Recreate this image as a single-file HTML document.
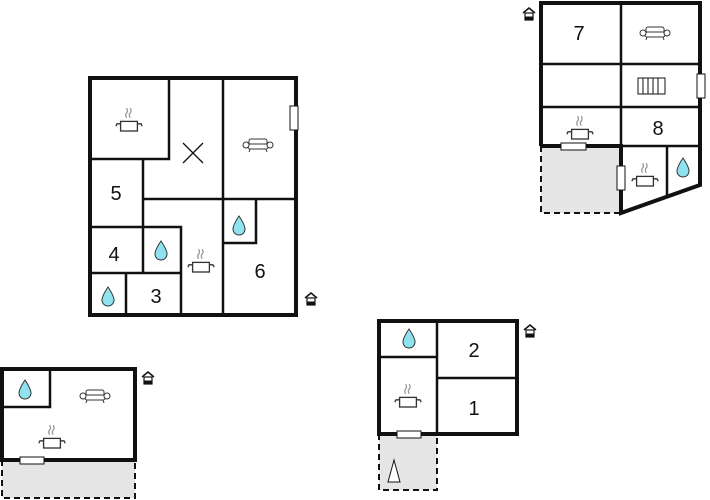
<!DOCTYPE html>
<html><head><style>body{margin:0;background:#fff}svg{display:block}text{font-family:"Liberation Sans",sans-serif;font-size:20px;fill:#111;text-anchor:middle}</style></head><body>
<svg width="710" height="500" viewBox="0 0 710 500" xmlns="http://www.w3.org/2000/svg">
<defs>
<g id="drop"><path d="M0,-10 C4,-4 6,0 6,3 A6,6 0 0 1 -6,3 C-6,0 -4,-4 0,-10Z" fill="#8fe3ee" stroke="#333" stroke-width="1"/></g>
<g id="pot" fill="none" stroke="#333" stroke-width="1.1" transform="scale(1.2)"><rect x="-7" y="-3" width="14" height="8" fill="#fff"/><path d="M-7,-1 L-10,-1 L-11,1 M7,-1 L10,-1 L11,1"/><path d="M-2,-6 q-1.5,-2.5 0,-4 q1.5,-1.5 0,-4 M1,-6 q-1.5,-2.5 0,-4 q1.5,-1.5 0,-4" stroke="#999"/></g>
<g id="sofa" fill="#fff" stroke="#333" stroke-width="1"><rect x="-9" y="-5" width="18" height="6" rx="2"/><rect x="-10" y="0" width="20" height="5" rx="2"/><ellipse cx="-12" cy="1" rx="3" ry="3"/><ellipse cx="12" cy="1" rx="3" ry="3"/><path d="M-8,5 l-1,3 M8,5 l1,3" fill="none"/></g>
<g id="house"><path d="M-6,-1 L0,-6 L6,-1" fill="none" stroke="#111" stroke-width="1.5"/><rect x="-4" y="-1" width="8" height="7" fill="#fff" stroke="#111" stroke-width="1.2"/><rect x="-4" y="2.5" width="8" height="3.5" fill="#111"/></g>
</defs>
<g stroke="#111" fill="none">
<rect x="90" y="78" width="206" height="237" stroke-width="4"/>
<g stroke-width="2.5">
<path d="M90,159H169V78 M223,78V315 M143,199H296 M143,159V273 M90,227H181V315 M90,273H181 M126,273V315 M223,243H256V199"/>
</g>
<path d="M183,143L203,163M203,143L183,163" stroke-width="1.3"/>
<rect x="290" y="106" width="8" height="24" fill="#fff" stroke-width="1"/>
<rect x="541" y="146" width="80" height="67" fill="#e5e5e5" stroke="none"/>
<path d="M541,146V213H621" stroke-width="2" stroke-dasharray="6,4"/>
<path d="M541,146V3H700V185L621,213V146H541" stroke-width="4"/>
<g stroke-width="2.5"><path d="M621,3V146 M541,64H700 M541,107H700 M621,146H700 M667,146V196"/></g>
<rect x="561" y="143" width="25" height="7" fill="#fff" stroke-width="1"/>
<rect x="617" y="166" width="8" height="24" fill="#fff" stroke-width="1"/>
<rect x="697" y="74" width="8" height="24" fill="#fff" stroke-width="1"/>
<g stroke-width="1"><rect x="638" y="78" width="27" height="16"/><path d="M643,78V94M648,78V94M653,78V94M658,78V94"/></g>
<rect x="379" y="434" width="58" height="56" fill="#e5e5e5" stroke="none"/>
<path d="M379,434V490H437V434" stroke-width="2" stroke-dasharray="6,4"/>
<rect x="379" y="321" width="138" height="113" stroke-width="4"/>
<path d="M437,321V434 M379,357H437 M437,378H517" stroke-width="2.5"/>
<rect x="397" y="431" width="24" height="7" fill="#fff" stroke-width="1"/>
<path d="M388,482L394,460L400,482Z" fill="#fff" stroke-width="1"/>
<rect x="2" y="460" width="133" height="38" fill="#e5e5e5" stroke="none"/>
<path d="M2,460V498H135V460" stroke-width="2" stroke-dasharray="6,4"/>
<rect x="2" y="369" width="133" height="91" stroke-width="4"/>
<path d="M2,407H50V369" stroke-width="2.5"/>
<rect x="20" y="457" width="24" height="7" fill="#fff" stroke-width="1"/>
</g>
<text x="116" y="200">5</text><text x="114" y="261">4</text><text x="156" y="303">3</text><text x="260" y="278">6</text>
<text x="579" y="40">7</text><text x="658" y="135">8</text>
<text x="474" y="357">2</text><text x="474" y="415">1</text>
<use href="#pot" x="129" y="125"/><use href="#pot" x="201" y="266"/><use href="#sofa" x="258" y="144"/>
<use href="#drop" x="239" y="226"/><use href="#drop" x="161" y="251"/><use href="#drop" x="108" y="297"/>
<use href="#house" x="311" y="299"/>
<use href="#sofa" x="655" y="32"/><use href="#pot" x="580" y="133"/><use href="#pot" x="645" y="180"/><use href="#drop" x="683" y="168"/><use href="#house" x="529" y="14"/>
<use href="#drop" x="409" y="339"/><use href="#pot" x="408" y="401"/><use href="#house" x="530" y="331"/>
<use href="#drop" x="25" y="390"/><use href="#sofa" x="95" y="395"/><use href="#pot" x="52" y="442"/><use href="#house" x="148" y="378"/>
</svg>
</body></html>
